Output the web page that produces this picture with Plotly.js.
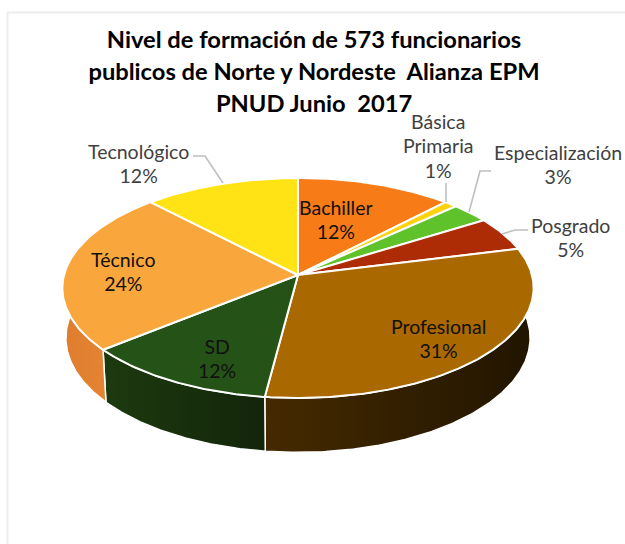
<!DOCTYPE html>
<html><head><meta charset="utf-8">
<script src="https://cdn.plot.ly/plotly-3.0.1.min.js"></script>
<style>html,body{margin:0;padding:0;background:#fff}#c{width:625px;height:544px}</style>
</head><body><div id="c"></div>
<script>
// DATA
const categorias = ["Bachiller","Básica Primaria","Especialización","Posgrado","Profesional","SD","Técnico","Tecnológico"];
const porcentajes = [12,1,3,5,31,12,24,12];
const colores = ["#F77B17","#FFD20F","#60C22B","#AE2C05","#A96800","#255216","#F9A63C","#FFE314"];
const paredIzq = ["#C4620F","#C4A00A","#4A9520","#861F03","#452A00","#1D3A0F","#DE7D2E","#C4A00A"];
const paredDer = ["#C4620F","#C4A00A","#4A9520","#861F03","#211500","#13250A","#EA8C38","#C4A00A"];
const tituloLineas = ["Nivel de formación de 573 funcionarios","publicos de Norte y Nordeste\u00A0 Alianza EPM","PNUD Junio\u00A0 2017"];

// Label placement (pixels of the hidden pixel-scaled axes)
const etiquetaLineas = [["Bachiller"],["Básica","Primaria"],["Especialización"],["Posgrado"],["Profesional"],["SD"],["Técnico"],["Tecnológico"]];
const etiquetaX = [336,438,558,570,438,217,123,138];
const etiquetaY = [219,146,164,237,338,358,271,163];
const etiquetaColor = ["#111","#404040","#404040","#404040","#111","#111","#111","#404040"];
const guias = [
  {x:[446,446],y:[183,202]},
  {x:[491,480,469],y:[171,171,212]},
  {x:[528,515,502],y:[230,230,234]},
  {x:[193,205,223],y:[156,156,183]}
];

// Projection of the tilted disc onto the hidden axes
const cx=298, cy=275, R=234, K=108.5, P=0.118, DEPTH=49.5, S=0.985;
function borde(theta, bajo){
  const u=Math.sin(theta), v=-Math.cos(theta), w=1/(1-P*v), s=bajo?S:1;
  return [cx+R*u*w*s, cy+K*v*w*s+(bajo?DEPTH*w:0)];
}
const total=porcentajes.reduce((a,b)=>a+b,0);
const paredes=[], tapas=[];
let acum=0;
porcentajes.forEach((p,i)=>{
  const a0=acum/total*2*Math.PI, a1=(acum+p)/total*2*Math.PI; acum+=p;
  const n=Math.max(4,Math.ceil((a1-a0)*90));
  const arco=[]; for(let k=0;k<=n;k++) arco.push(a0+(a1-a0)*k/n);
  const sup=arco.map(t=>borde(t,false)), inf=arco.map(t=>borde(t,true)).reverse();
  const pw=sup.concat(inf); pw.push(sup[0]);
  paredes.push({type:"scatter",mode:"lines",x:pw.map(q=>q[0]),y:pw.map(q=>q[1]),fill:"toself",
    fillgradient:{type:"horizontal",colorscale:[[0,paredIzq[i]],[1,paredDer[i]]]},
    line:{color:"#ffffff",width:1.5},hoverinfo:"skip",showlegend:false});
  const pt=[[cx,cy]].concat(sup,[[cx,cy]]);
  tapas.push({type:"scatter",mode:"lines",name:categorias[i],x:pt.map(q=>q[0]),y:pt.map(q=>q[1]),fill:"toself",fillcolor:colores[i],
    line:{color:"#ffffff",width:2},hoverinfo:"name",showlegend:false});
});
const lineasGuia=guias.map(g=>({type:"scatter",mode:"lines",x:g.x,y:g.y,line:{color:"#BFBFBF",width:1.6},hoverinfo:"skip",showlegend:false}));

const FUENTE="Lato, 'Open Sans', sans-serif";
const anotaciones=categorias.map((c,i)=>({
  xref:"x",yref:"y",x:etiquetaX[i],y:etiquetaY[i],xanchor:"center",yanchor:"middle",showarrow:false,align:"center",
  text:'<span style="font-size:19.5px">'+etiquetaLineas[i].concat([porcentajes[i]+"%"]).join('</span><br><span style="font-size:19.5px">')+'</span>',
  font:{family:FUENTE,size:18.8,color:etiquetaColor[i]}
}));

const layout={
  width:625,height:544,margin:{l:0,r:0,t:0,b:0},paper_bgcolor:"#fff",plot_bgcolor:"#fff",showlegend:false,
  title:{text:tituloLineas.map(t=>'<span style="font-size:23.7px">'+t+'</span>').join('<br>'),
    font:{family:FUENTE,size:24.6,color:"#000",weight:700},x:314/625,xanchor:"center",yref:"container",y:1-48/544,yanchor:"top"},
  xaxis:{range:[0,625],visible:false,fixedrange:true},
  yaxis:{range:[544,0],visible:false,fixedrange:true},
  annotations:anotaciones,
  shapes:[
    {type:"line",xref:"x",yref:"y",x0:7.5,x1:7.5,y0:12,y1:544,line:{color:"#EDEDED",width:2},layer:"below"},
    {type:"line",xref:"x",yref:"y",x0:7,x1:625,y0:12.5,y1:12.5,line:{color:"#EDEDED",width:2},layer:"below"}
  ]
};
Plotly.newPlot("c",paredes.concat(tapas,lineasGuia),layout,{displayModeBar:false,staticPlot:true});
</script></body></html>
